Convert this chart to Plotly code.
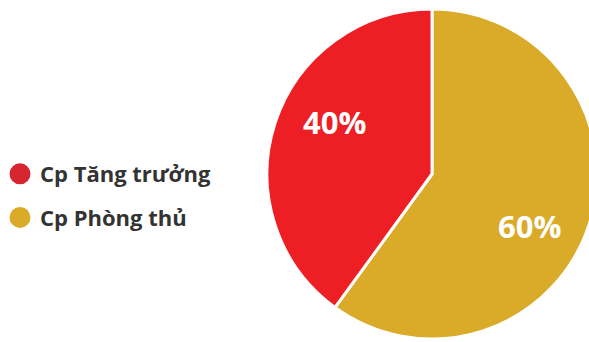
import math
import plotly.graph_objects as go

labels = ["Cp Tăng trưởng", "Cp Phòng thủ"]
values = [40, 60]
pie_colors = ["#ED1F24", "#DAAB29"]
legend_colors = ["#D7262F", "#DAAB29"]
text_labels = ["40%", "60%"]

W, H = 600, 342
# pie geometry (pixels): centre and radius
CX, CY, R = 432, 174, 165
LABEL_R = 0.67      # label distance as fraction of radius
LABEL_SHIFT = 10    # degrees, clockwise shift of labels

fig = go.Figure()

# first slice (red) runs counter-clockwise from 12 o'clock:
# draw slices in reverse order clockwise so red ends at 12 o'clock
fig.add_trace(go.Pie(
    labels=labels[::-1],
    values=values[::-1],
    textinfo="none",
    marker=dict(colors=pie_colors[::-1], line=dict(color="white", width=3)),
    sort=False,
    direction="clockwise",
    rotation=0,
    showlegend=False,
    hoverinfo="label+percent",
    domain=dict(x=[(CX - R) / W, (CX + R) / W], y=[1 - (CY + R) / H, 1 - (CY - R) / H]),
))

# labels placed at slice mid-angles computed from the values
total = sum(values)
start = 0.0  # counter-clockwise angle from 12 o'clock, degrees
for v, t in zip(values, text_labels):
    span = 360.0 * v / total
    mid_ccw = start + span / 2
    ang = math.radians(-mid_ccw + LABEL_SHIFT)  # clockwise angle from top
    px = CX + LABEL_R * R * math.sin(ang)
    py = CY - LABEL_R * R * math.cos(ang)
    fig.add_annotation(
        x=px / W, y=1 - py / H, xref="paper", yref="paper",
        text=t, showarrow=False, xanchor="center", yanchor="middle",
        font=dict(family="Open Sans", size=31, color="white", weight=700),
    )
    start += span

for i, (lab, col) in enumerate(zip(labels, legend_colors)):
    fig.add_trace(go.Scatter(
        x=[None], y=[None], mode="markers", name=lab,
        legendgroup=f"g{i}",
        marker=dict(symbol="circle", size=16, color=col, line=dict(color=col, width=5)),
    ))

fig.update_layout(
    width=W, height=H,
    margin=dict(l=0, r=0, t=0, b=0),
    paper_bgcolor="white", plot_bgcolor="white",
    xaxis=dict(visible=False), yaxis=dict(visible=False),
    legend=dict(
        x=0.0, y=1 - 196 / H, xanchor="left", yanchor="middle",
        font=dict(family="Open Sans", size=22, color="#333333", weight=700),
        traceorder="grouped", tracegroupgap=12,
        itemsizing="trace", bgcolor="rgba(0,0,0,0)",
    ),
)

fig.write_html("out.html")
